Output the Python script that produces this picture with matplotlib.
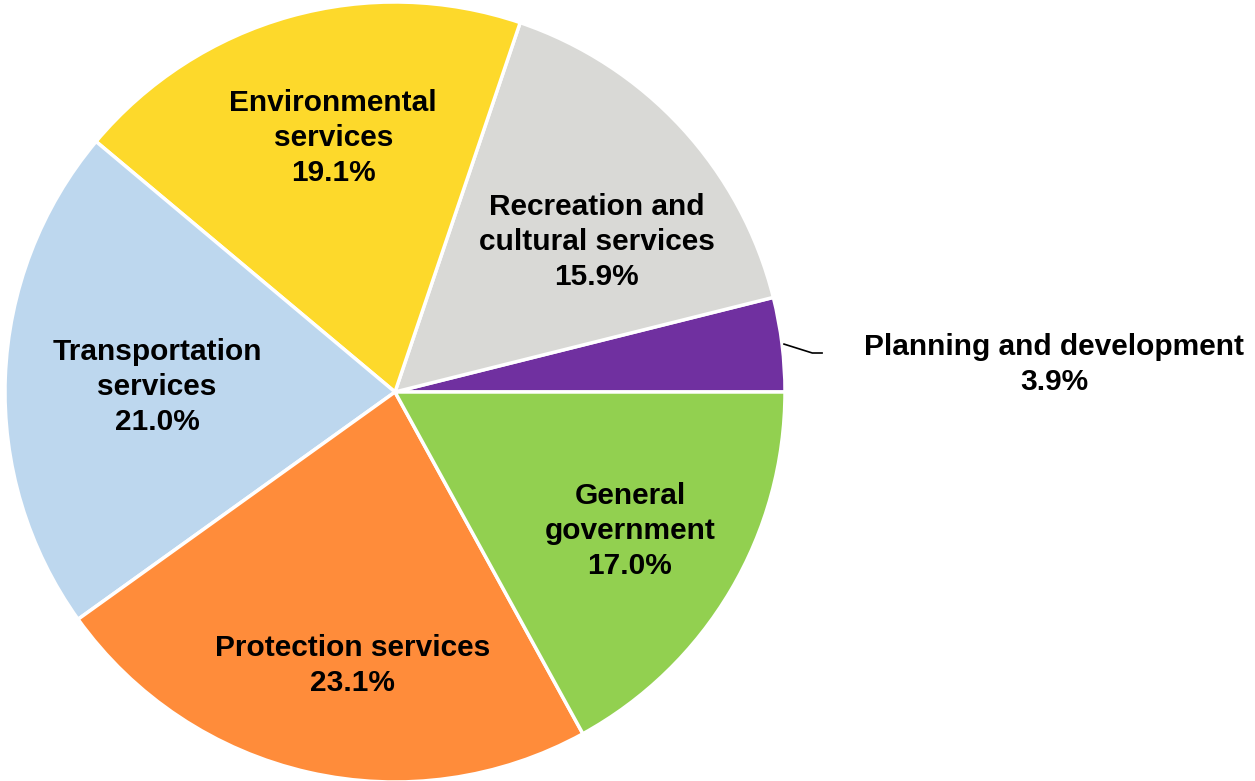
import numpy as np
import matplotlib.pyplot as plt

# expenditure shares by function
categories = ["Planning and development", "Recreation and\ncultural services",
              "Environmental\nservices", "Transportation\nservices",
              "Protection services", "General\ngovernment"]
shares = [3.9, 15.9, 19.1, 21.0, 23.1, 17.0]
colors = ["#7030A0", "#D9D9D6", "#FDD92B", "#BDD7EE", "#FF8C3A", "#92D050"]

# label placement: (radius, angle shift in degrees)
label_pos = [None, (0.645, -6), (0.67, -2), (0.61, 1), (0.71, 4), (0.70, 0)]

plt.rcParams['font.family'] = ['Liberation Sans', 'DejaVu Sans']

W, H = 1255, 781
cx, cy, r = 395, 392, 390
fig = plt.figure(figsize=(W / 100, H / 100), dpi=100)
ax = fig.add_axes([(cx - r) / W, (H - cy - r) / H, 2 * r / W, 2 * r / H])

wedges, _ = ax.pie(shares, colors=colors, startangle=0, counterclock=True,
                   radius=1.0, wedgeprops=dict(edgecolor="white", linewidth=2.5))
ax.set_xlim(-1, 1)
ax.set_ylim(-1, 1)
ax.set_aspect("equal")
ax.axis("off")

fs = 21.5
ls = 1.32
for w, name, val, pos in zip(wedges, categories, shares, label_pos):
    mid = np.deg2rad((w.theta1 + w.theta2) / 2)
    txt = f"{name}\n{val:.1f}%"
    if pos is None:
        # small slice: label outside with a leader line
        x0, y0 = np.cos(mid), np.sin(mid)
        ax.plot([x0 * 1.005, 1.07, 1.095], [y0 * 1.005, 0.10, 0.10],
                color="black", lw=1.2, clip_on=False)
        ax.text(1.69, 0.07, txt, ha="center", va="center", fontsize=fs,
                fontweight="bold", linespacing=ls)
        continue
    rad, shift = pos
    a = mid + np.deg2rad(shift)
    ax.text(rad * np.cos(a), rad * np.sin(a), txt, ha="center", va="center",
            fontsize=fs, fontweight="bold", linespacing=ls)

fig.savefig("out.png", dpi=100)
